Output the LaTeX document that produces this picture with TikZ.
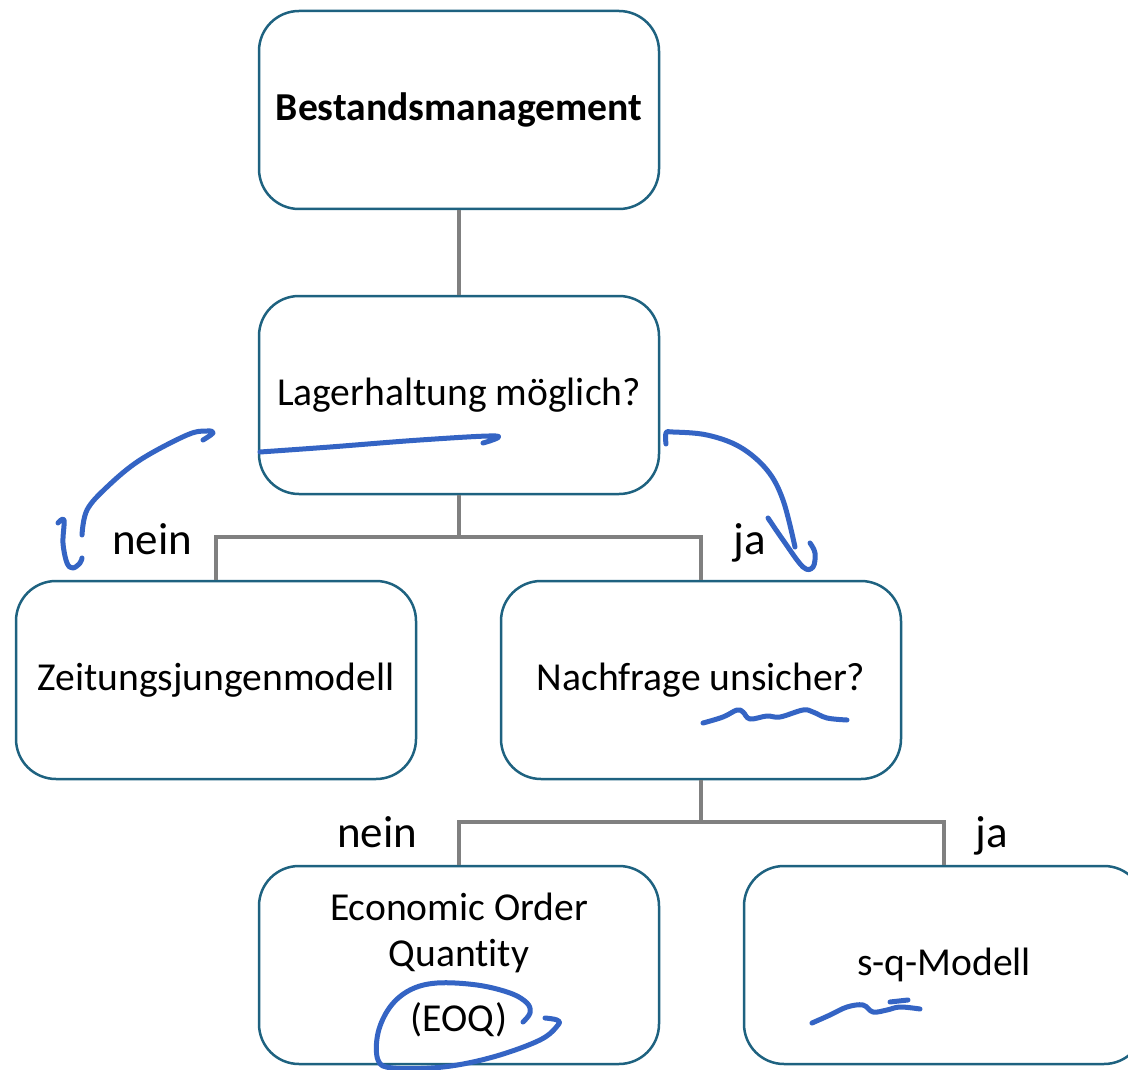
\documentclass[tikz,border=0pt]{standalone}
\usepackage{fontspec}
\setmainfont[Ligatures=NoCommon]{Carlito}
\definecolor{boxborder}{RGB}{30,98,128}
\definecolor{connGray}{RGB}{128,128,128}
\definecolor{penblue}{RGB}{52,100,196}
\begin{document}
\begin{tikzpicture}[x=1pt,y=-1pt,
  box/.style={draw=boxborder, line width=2.5pt, rounded corners=40pt, fill=white,
    minimum width=400pt, minimum height=198pt, align=center,
    font=\fontsize{39.6}{46}\selectfont},
  conn/.style={draw=connGray, line width=3.5pt},
  lbl/.style={font=\fontsize{45}{54}\selectfont, anchor=base, inner sep=0pt},
  pen/.style={draw=penblue, line width=5pt, line cap=round, line join=round}]
\clip (0,0) rectangle (1128,1070);
\fill[white] (0,0) rectangle (1128,1070);

\coordinate (j1) at (459,537);
\coordinate (j2) at (701,822);

\node[box] (best) at (459,110) {\textbf{Bestandsmanagement}};
\node[box] (lager) at (459,395) {Lagerhaltung möglich?};
\node[box] (zeit) at (216,680) {Zeitungsjungenmodell};
\node[box] (nach) at (701,680) {Nachfrage unsicher?};
\node[box] (eoq) at (459,965) {Economic Order\\Quant\kern0pt ity\\[19pt](EOQ)};
\node[box] (sq) at (944,965) {s-q-Modell};

\draw[conn] (best.south) -- (lager.north);
\draw[conn] (lager.south) -- (j1);
\draw[conn] (j1) -| (zeit.north);
\draw[conn] (j1) -| (nach.north);
\draw[conn] (nach.south) -- (j2);
\draw[conn] (j2) -| (eoq.north);
\draw[conn] (j2) -| (sq.north);

\node[lbl] (nein1) at (152,554) {nein};
\node[lbl] (ja1) at (750,554) {ja};
\node[lbl] (nein2) at (377,847) {nein};
\node[lbl] (ja2) at (992,847) {ja};

% handwritten annotations
\draw[pen] plot[smooth, tension=0.6] coordinates {(260,452) (330,447) (420,440) (496,436) (483,443)};
\draw[pen] plot[smooth, tension=0.6] coordinates {(203,440) (213,433) (207,431) (187,435) (140,460) (107,487) (87,510) (82,535)};
\draw[pen] plot[smooth, tension=0.6] coordinates {(58,523) (64,520) (63,543) (67,563) (73,568) (80,563) (82,558)};
\draw[pen] plot[smooth, tension=0.6] coordinates {(666,444) (666,433) (673,432) (707,435) (740,447) (767,470) (783,500) (795,547)};
\draw[pen] plot[smooth, tension=0.6] coordinates {(768,518) (783,540) (803,567) (813,567) (815,553) (810,543)};
\draw[pen] plot[smooth, tension=0.6] coordinates {(703,723) (723,717) (737,710) (743,712) (750,719) (767,716) (780,717) (803,710) (813,712) (827,718) (847,720)};
\draw[pen] plot[smooth, tension=0.6] coordinates {(523,1022) (530,1013) (527,1003) (510,993) (477,985) (437,983) (410,990) (390,1007) (378,1033) (378,1060) (393,1068) (443,1067) (493,1057) (540,1040) (558,1025) (557,1020) (545,1018)};
\draw[pen] plot[smooth, tension=0.6] coordinates {(812,1023) (830,1015) (847,1007) (863,1005) (873,1012) (887,1010) (900,1007) (920,1009)};
\draw[pen] (890,1002) -- (908,1000);
\end{tikzpicture}
\end{document}
